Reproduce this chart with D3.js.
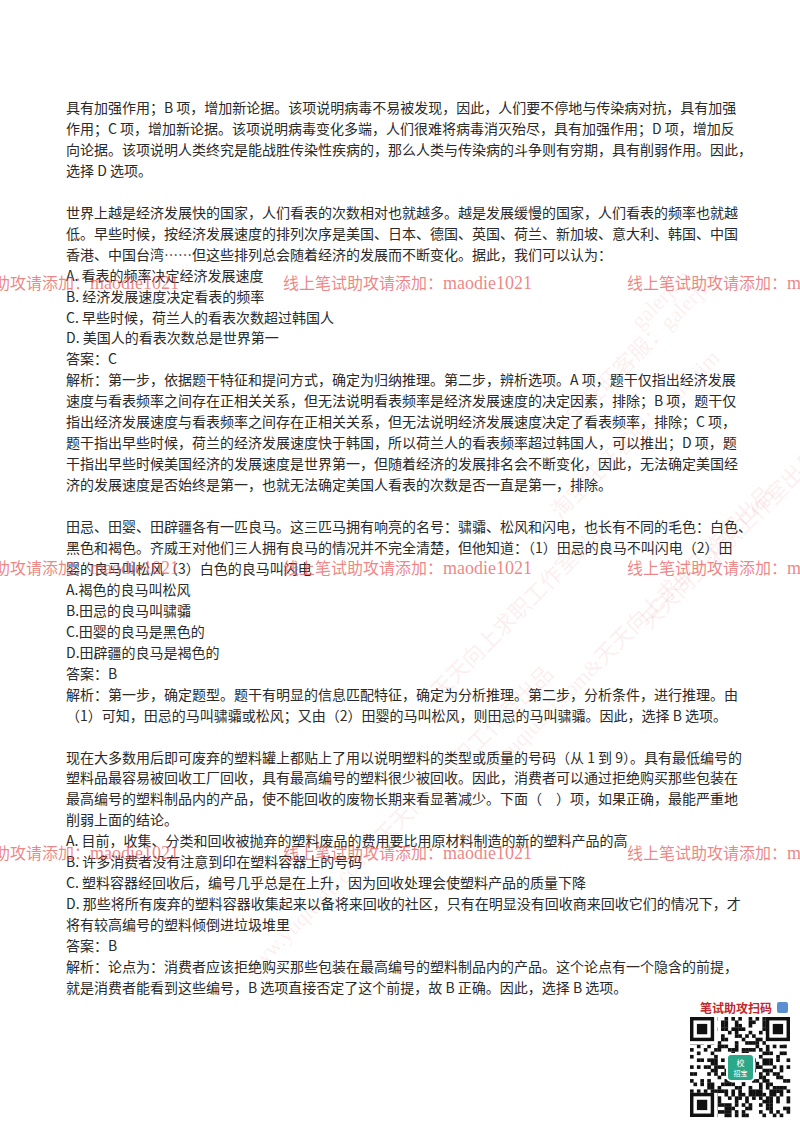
<!DOCTYPE html>
<html><head><meta charset="utf-8">
<script src="https://cdn.jsdelivr.net/npm/d3@7"></script>
<style>body{margin:0;background:#fff}svg{display:block}</style>
</head><body>
<script>
const paragraphs = [
 ["具有加强作用；B 项，增加新论据。该项说明病毒不易被发现，因此，人们要不停地与传染病对抗，具有加强",
  "作用；C 项，增加新论据。该项说明病毒变化多端，人们很难将病毒消灭殆尽，具有加强作用；D 项，增加反",
  "向论据。该项说明人类终究是能战胜传染性疾病的，那么人类与传染病的斗争则有穷期，具有削弱作用。因此，",
  "选择 D 选项。"],
 ["世界上越是经济发展快的国家，人们看表的次数相对也就越多。越是发展缓慢的国家，人们看表的频率也就越",
  "低。早些时候，按经济发展速度的排列次序是美国、日本、德国、英国、荷兰、新加坡、意大利、韩国、中国",
  "香港、中国台湾……但这些排列总会随着经济的发展而不断变化。据此，我们可以认为：",
  "A. 看表的频率决定经济发展速度",
  "B. 经济发展速度决定看表的频率",
  "C. 早些时候，荷兰人的看表次数超过韩国人",
  "D. 美国人的看表次数总是世界第一",
  "答案：C",
  "解析：第一步，依据题干特征和提问方式，确定为归纳推理。第二步，辨析选项。A 项，题干仅指出经济发展",
  "速度与看表频率之间存在正相关关系，但无法说明看表频率是经济发展速度的决定因素，排除；B 项，题干仅",
  "指出经济发展速度与看表频率之间存在正相关关系，但无法说明经济发展速度决定了看表频率，排除；C 项，",
  "题干指出早些时候，荷兰的经济发展速度快于韩国，所以荷兰人的看表频率超过韩国人，可以推出；D 项，题",
  "干指出早些时候美国经济的发展速度是世界第一，但随着经济的发展排名会不断变化，因此，无法确定美国经",
  "济的发展速度是否始终是第一，也就无法确定美国人看表的次数是否一直是第一，排除。"],
 ["田忌、田婴、田辟疆各有一匹良马。这三匹马拥有响亮的名号：骕骦、松风和闪电，也长有不同的毛色：白色、",
  "黑色和褐色。齐威王对他们三人拥有良马的情况并不完全清楚，但他知道：（1）田忌的良马不叫闪电（2）田",
  "婴的良马叫松风（3）白色的良马叫闪电",
  "A.褐色的良马叫松风",
  "B.田忌的良马叫骕骦",
  "C.田婴的良马是黑色的",
  "D.田辟疆的良马是褐色的",
  "答案：B",
  "解析：第一步，确定题型。题干有明显的信息匹配特征，确定为分析推理。第二步，分析条件，进行推理。由",
  "（1）可知，田忌的马叫骕骦或松风；又由（2）田婴的马叫松风，则田忌的马叫骕骦。因此，选择 B 选项。"],
 ["现在大多数用后即可废弃的塑料罐上都贴上了用以说明塑料的类型或质量的号码（从 1 到 9）。具有最低编号的",
  "塑料品最容易被回收工厂回收，具有最高编号的塑料很少被回收。因此，消费者可以通过拒绝购买那些包装在",
  "最高编号的塑料制品内的产品，使不能回收的废物长期来看显著减少。下面（　）项，如果正确，最能严重地",
  "削弱上面的结论。",
  "A. 目前，收集、分类和回收被抛弃的塑料废品的费用要比用原材料制造的新的塑料产品的高",
  "B. 许多消费者没有注意到印在塑料容器上的号码",
  "C. 塑料容器经回收后，编号几乎总是在上升，因为回收处理会使塑料产品的质量下降",
  "D. 那些将所有废弃的塑料容器收集起来以备将来回收的社区，只有在明显没有回收商来回收它们的情况下，才",
  "将有较高编号的塑料倾倒进垃圾堆里",
  "答案：B",
  "解析：论点为：消费者应该拒绝购买那些包装在最高编号的塑料制品内的产品。这个论点有一个隐含的前提，",
  "就是消费者能看到这些编号，B 选项直接否定了这个前提，故 B 正确。因此，选择 B 选项。"]
];
const watermarkText = ["线上笔试助攻请添加：", "maodie1021"];
const watermarkRows = [0, 1, 2];
const watermarkCols = [0, 1, 2];
const diagText = ["galerjim", "淘宝旺旺客服：galerjim", "天天向上求职工作室出品", "www.yuqiuzhi.com&天天向上求职工作室出品"];
const qrTitle = "笔试助攻扫码";

const W = 800, H = 1132;
const svg = d3.select("body").append("svg").attr("width", W).attr("height", H);

const rows = [];
paragraphs.forEach((p, i) => { if (i) rows.push(""); p.forEach(l => rows.push(l)); });
const y = d3.scaleLinear().domain([0, rows.length - 1]).range([113, 993]);

// faint diagonal watermarks
const dg = svg.append("g").attr("fill", "rgba(235,120,120,0.13)")
  .attr("font-family", "Liberation Serif, Noto Sans CJK SC").attr("font-size", 22);
[[560,440,1],[640,330,0],[470,800,3],[440,700,2],[650,630,2],[250,980,3],[560,520,1]].forEach(([x0,y0,k]) =>
  dg.append("text").attr("transform", `translate(${x0},${y0}) rotate(-45)`).text(diagText[k]));

svg.append("g").attr("font-family", "Noto Sans CJK SC, sans-serif").attr("font-size", 14)
  .attr("fill", "#2a2a2a")
  .selectAll("text").data(rows).join("text")
  .attr("x", 66).attr("y", (d, i) => y(i)).text(d => d);

// red watermark rows
const wx = d3.scaleOrdinal().domain([0, 1, 2]).range([-70, 283, 627]);
const wy = d3.scaleLinear().domain([0, 2]).range([289, 859]);
const wg = svg.append("g").attr("fill", "rgba(232,80,80,0.7)")
  .attr("font-family", "Noto Sans CJK SC, sans-serif").attr("font-size", 16);
watermarkRows.forEach(r => watermarkCols.forEach(c => {
  const t = wg.append("text").attr("x", wx(c)).attr("y", wy(r));
  t.append("tspan").text(watermarkText[0]);
  t.append("tspan").attr("font-family", "Liberation Serif").attr("font-size", 18).text(watermarkText[1]);
}));

// QR block
svg.append("text").attr("x", 700).attr("y", 1013).attr("fill", "#c0272d")
  .attr("font-family", "Noto Sans CJK SC").attr("font-weight", "bold").attr("font-size", 12).text(qrTitle);
svg.append("rect").attr("x", 777).attr("y", 1002).attr("width", 11).attr("height", 11).attr("fill", "#5b8fd0").attr("rx", 2);
const qx = 690, qy = 1017, n = 29, cell = 100 / n;
const qg = svg.append("g");
for (let i = 0; i < n; i++) for (let j = 0; j < n; j++) {
  const h = ((i * 73856093) ^ (j * 19349663) ^ (i * j * 83492791)) >>> 0;
  if (h % 7 < 3) qg.append("rect").attr("x", qx + i * cell).attr("y", qy + j * cell)
    .attr("width", cell + 0.2).attr("height", cell + 0.2).attr("fill", "#111");
}
[[0,0],[n-7,0],[0,n-7]].forEach(([i,j]) => {
  qg.append("rect").attr("x", qx+i*cell).attr("y", qy+j*cell).attr("width", 8*cell).attr("height", 8*cell).attr("fill", "#fff");
  qg.append("rect").attr("x", qx+(i+0.5)*cell).attr("y", qy+(j+0.5)*cell).attr("width", 6*cell).attr("height", 6*cell)
    .attr("fill", "none").attr("stroke", "#111").attr("stroke-width", cell);
  qg.append("rect").attr("x", qx+(i+2)*cell).attr("y", qy+(j+2)*cell).attr("width", 3*cell).attr("height", 3*cell).attr("fill", "#111");
});
qg.append("rect").attr("x", 727).attr("y", 1054).attr("width", 27).attr("height", 27).attr("rx", 4).attr("fill", "#2aa889").attr("stroke","#fff").attr("stroke-width",2);
qg.append("text").attr("x", 740.5).attr("y", 1066).attr("text-anchor","middle").attr("fill","#fff").attr("font-size",8).attr("font-family","Noto Sans CJK SC").text("校");
qg.append("text").attr("x", 740.5).attr("y", 1076).attr("text-anchor","middle").attr("fill","#fff").attr("font-size",7).attr("font-family","Noto Sans CJK SC").text("招宝");
</script>
</body></html>
